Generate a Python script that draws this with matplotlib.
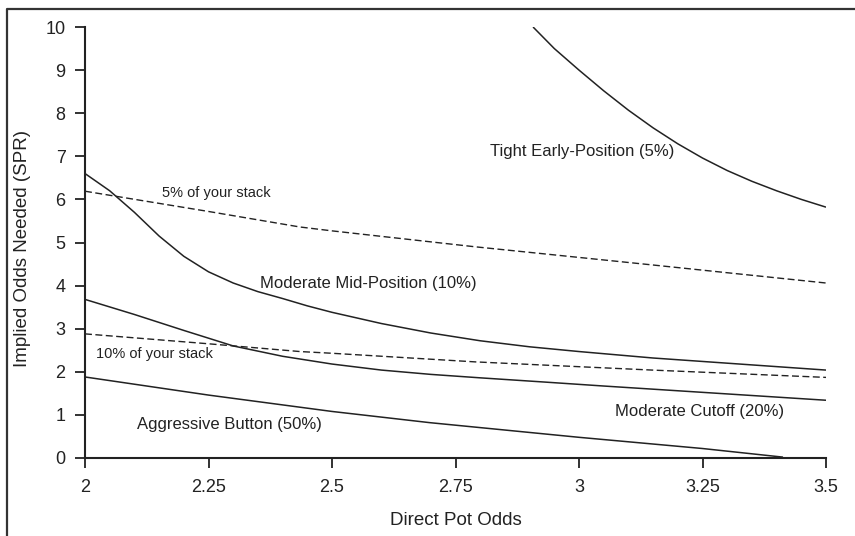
import matplotlib
matplotlib.use("Agg")
import matplotlib.pyplot as plt
from matplotlib.lines import Line2D

plt.rcParams['font.family'] = ['Liberation Sans', 'DejaVu Sans']

# curves (direct pot odds -> implied odds needed)
tight_x = [2.907, 2.95, 3.0, 3.05, 3.1, 3.15, 3.2, 3.25, 3.3, 3.35, 3.4, 3.45, 3.5]
tight_y = [10.0, 9.5, 9.0, 8.52, 8.07, 7.66, 7.29, 6.96, 6.67, 6.42, 6.2, 6.0, 5.82]

mid_x = [2.0, 2.05, 2.1, 2.15, 2.2, 2.25, 2.3, 2.35, 2.4, 2.45, 2.5, 2.6, 2.7, 2.8, 2.9, 3.0, 3.15, 3.3, 3.5]
mid_y = [6.6, 6.2, 5.7, 5.15, 4.68, 4.32, 4.06, 3.86, 3.7, 3.53, 3.38, 3.12, 2.9, 2.72, 2.58, 2.47, 2.32, 2.2, 2.04]

cutoff_x = [2.0, 2.1, 2.2, 2.3, 2.4, 2.5, 2.6, 2.7, 2.8, 2.933, 3.05, 3.2, 3.35, 3.5]
cutoff_y = [3.68, 3.33, 2.96, 2.6, 2.36, 2.18, 2.04, 1.94, 1.86, 1.76, 1.67, 1.56, 1.45, 1.34]

button_x = [2.0, 2.25, 2.5, 2.698, 3.0, 3.25, 3.413]
button_y = [1.88, 1.46, 1.08, 0.82, 0.48, 0.22, 0.02]

stack5_x = [2.0, 2.25, 2.435, 2.5, 2.79, 3.148, 3.5]
stack5_y = [6.19, 5.72, 5.36, 5.27, 4.9, 4.48, 4.06]

stack10_x = [2.0, 2.25, 2.435, 2.5, 2.79, 3.148, 3.5]
stack10_y = [2.88, 2.65, 2.47, 2.43, 2.23, 2.04, 1.87]

x_ticks = [2, 2.25, 2.5, 2.75, 3, 3.25, 3.5]
x_tick_labels = ["2", "2.25", "2.5", "2.75", "3", "3.25", "3.5"]
y_ticks = list(range(0, 11))

# (text, x, y, size)
labels = [
    ("Tight Early-Position (5%)", 2.820, 7.10, 12),
    ("5% of your stack", 2.156, 6.15, 10.5),
    ("Moderate Mid-Position (10%)", 2.354, 4.06, 12),
    ("10% of your stack", 2.022, 2.41, 10.5),
    ("Aggressive Button (50%)", 2.105, 0.77, 12),
    ("Moderate Cutoff (20%)", 3.073, 1.07, 12),
]

ink = "#222222"

fig = plt.figure(figsize=(8.55, 5.36), dpi=100)
ax = fig.add_axes([85 / 855, 78 / 536, 741 / 855, 431 / 536])

for xs, ys in [(tight_x, tight_y), (mid_x, mid_y), (cutoff_x, cutoff_y), (button_x, button_y)]:
    ax.plot(xs, ys, color=ink, lw=1.1, solid_capstyle="butt", solid_joinstyle="round")
for xs, ys in [(stack5_x, stack5_y), (stack10_x, stack10_y)]:
    ax.plot(xs, ys, color=ink, lw=1.0, dashes=(5, 2.5))

for txt, tx, ty, sz in labels:
    ax.text(tx, ty, txt, fontsize=sz, color=ink, ha="left", va="center")

ax.set_xlim(2, 3.5)
ax.set_ylim(0, 10)
ax.set_xticks(x_ticks)
ax.set_xticklabels(x_tick_labels)
ax.set_yticks(y_ticks)
ax.tick_params(direction="out", length=7, width=1.3, colors=ink, labelsize=13)
ax.tick_params(axis="x", pad=8)
ax.tick_params(axis="y", pad=7)

for side in ["top", "right"]:
    ax.spines[side].set_visible(False)
for side in ["left", "bottom"]:
    ax.spines[side].set_linewidth(1.5)
    ax.spines[side].set_color(ink)

ax.set_xlabel("Direct Pot Odds", fontsize=13.5, color=ink, va="center")
ax.set_ylabel("Implied Odds Needed (SPR)", fontsize=13.5, color=ink)
ax.xaxis.set_label_coords(0.5, -0.145)
ax.yaxis.set_label_coords(-0.073, 0.485)

# frame around the figure (only top and left visible in the source)
fx = 7 / 855
fy = 1 - 9 / 536
fig.add_artist(Line2D([fx, fx, 1.0], [0.0, fy, fy], transform=fig.transFigure,
                      color="#333333", lw=1.6))

fig.savefig("out.png", dpi=100)
